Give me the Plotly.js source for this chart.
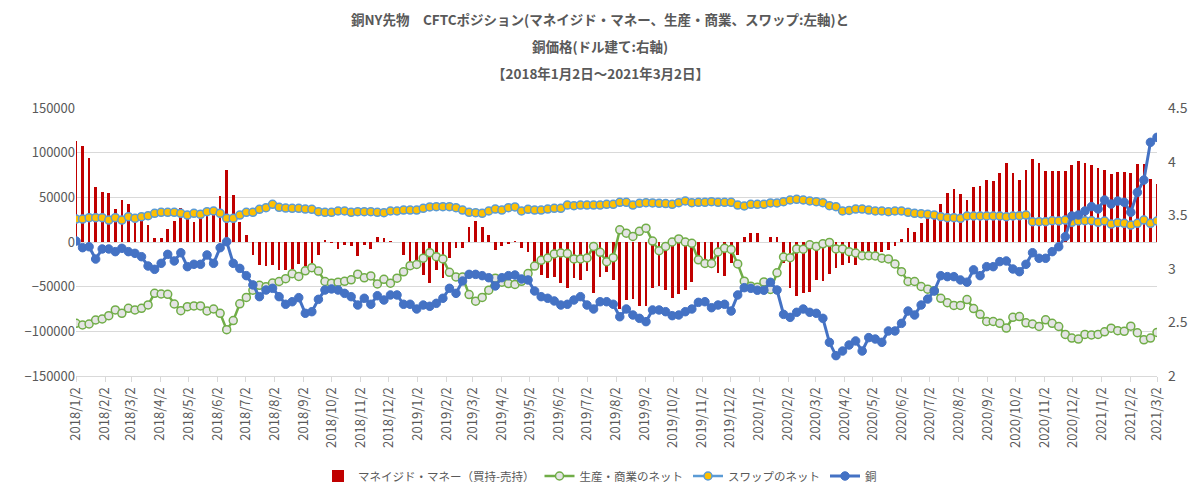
<!DOCTYPE html>
<html><head><meta charset="utf-8">
<script src="https://cdn.plot.ly/plotly-3.0.1.min.js"></script>
<style>html,body{margin:0;padding:0;background:#fff}#chart{width:1200px;height:497px}</style>
</head><body><div id="chart"></div>
<script>
// Weekly (Tuesday) observations, 2018/1/2 .. 2021/3/2 (166 weeks)
const startDate = '2018-01-02';
const weekCount = 166;

// マネイジド・マネー（買持-売持）
const managedMoney = [
113400,107300,94000,61200,55800,54300,36400,47000,42000,27000,
25000,19000,4000,4000,15000,23000,38500,27000,22000,28000,
33000,35000,51300,80800,52800,22200,8000,-14300,-25500,-27400,
-25200,-31100,-30800,-30200,-24600,-26500,-23700,-14300,2400,-1300,
-8000,-3200,-5000,-15300,-3400,-8200,6000,4100,1100,-400,
-14500,-23900,-23900,-36900,-46300,-31300,-40700,-17500,-6300,-7100,
17200,23500,17200,7800,-9000,-4100,-2200,1500,-7100,-10800,
-31300,-36900,-40700,-38800,-46300,-51900,-40700,-42500,-32500,-57500,
-38800,-33200,-42300,-75000,-64800,-63800,-71300,-71800,-51700,-49800,
-53500,-62900,-58500,-53500,-45100,-17700,-22700,-26400,-35200,-38600,
-23700,-14900,6100,9800,9800,500,6100,6100,-23900,-52000,
-60400,-57000,-56000,-43000,-44000,-36000,-29300,-26000,-24000,-25500,
-17000,-14300,-14300,-11500,-9100,-5000,3000,16000,11500,21000,
26700,35000,42000,54700,59500,53200,47000,61200,63000,69800,
68600,76800,88000,76800,69800,80600,92500,88800,79500,79800,
79500,79800,86200,90600,88000,86200,82400,80600,76100,78000,
78000,77600,86900,86900,70500,65300];

// 生産・商業のネット
const producerNet = [
-91000,-92900,-91800,-87300,-86200,-82500,-76100,-79800,-74200,-76100,
-74200,-70500,-57500,-58200,-58600,-69400,-76900,-72400,-71600,-71600,
-77200,-75000,-79800,-98200,-88000,-69200,-62000,-54000,-48500,-50000,
-46000,-44200,-41000,-35500,-38600,-32300,-28800,-32600,-44200,-46100,
-45000,-44000,-42300,-36000,-40100,-38000,-47000,-41800,-46100,-40500,
-33400,-26500,-25200,-18100,-11900,-16400,-19000,-34000,-39100,-39200,
-58800,-66200,-62100,-53900,-40500,-45000,-46500,-47500,-44000,-35400,
-27000,-20500,-17900,-13400,-12300,-13000,-19000,-19000,-17900,-5000,
-11600,-22000,-17500,13600,9900,6200,12000,15500,1000,-9700,
-5000,0,3400,0,-1500,-20000,-24000,-24000,-11200,-7000,
-8400,-24600,-43800,-49500,-50700,-44700,-53100,-34500,-16800,-17500,
-7800,-8000,-3200,-5000,-2000,-500,-7800,-7800,-10800,-12300,
-15300,-15300,-15600,-18100,-19000,-24500,-33200,-44200,-44200,-49800,
-52800,-54500,-63000,-68000,-71000,-71000,-64500,-74500,-81000,-89000,
-89000,-91000,-96400,-84300,-83500,-90500,-91800,-94600,-87100,-91000,
-94600,-103500,-107600,-108700,-103500,-104000,-103500,-100600,-96500,-99300,
-100000,-94200,-101600,-109500,-107600,-101200];

// スワップのネット
const swapNet = [
25700,25700,27200,27200,27200,24600,27200,24600,28400,26500,
28400,29500,32100,33200,33200,33200,32100,30200,32100,31000,
34000,34700,32100,26500,26500,30200,33200,33200,36600,38400,
42200,38800,38000,37700,37700,36900,36600,34000,33200,33200,
34700,34700,33200,34000,34000,34000,33200,32800,34700,34700,
35800,35800,35800,37700,39300,39500,39500,39500,38400,35800,
33200,32800,32100,34700,36900,35800,38400,39200,34700,36600,
35800,35800,36900,37700,37700,41400,40700,41400,41400,41400,
41400,42200,42200,44400,44400,41400,43300,44000,43700,43300,
43000,42200,44000,45900,44000,44400,44400,45100,44400,44400,
44400,41400,40300,42200,42200,42200,43700,43700,45100,47000,
47800,47000,45900,45100,44000,40700,39500,34700,35400,36900,
36900,35800,34700,34700,34000,34700,34700,33200,32100,31700,
31000,30200,28400,27200,27200,26500,29100,29100,29100,29100,
29100,29100,28400,29100,29500,30200,22800,22800,22800,23900,
23500,24600,22000,23500,23900,23900,22000,23500,20100,21600,
20900,19000,20900,24600,20900,23500];

// 銅 (ドル建て, 右軸)
const copper = [
3.259,3.197,3.206,3.091,3.185,3.185,3.160,3.191,3.160,3.144,
3.113,3.026,2.995,3.051,3.135,3.073,3.150,3.020,3.042,3.042,
3.129,3.051,3.197,3.253,3.051,3.004,2.936,2.850,2.740,2.802,
2.818,2.740,2.669,2.693,2.731,2.585,2.600,2.715,2.802,2.812,
2.802,2.771,2.740,2.662,2.725,2.669,2.749,2.709,2.756,2.756,
2.669,2.669,2.625,2.662,2.650,2.678,2.725,2.818,2.771,2.886,
2.948,2.948,2.936,2.917,2.840,2.917,2.936,2.942,2.905,2.896,
2.793,2.740,2.725,2.700,2.662,2.669,2.709,2.740,2.662,2.625,
2.693,2.693,2.669,2.553,2.625,2.569,2.538,2.507,2.616,2.616,
2.600,2.563,2.569,2.600,2.625,2.687,2.693,2.637,2.662,2.669,
2.606,2.756,2.824,2.818,2.800,2.800,2.874,2.802,2.575,2.547,
2.594,2.625,2.594,2.585,2.538,2.314,2.190,2.233,2.289,2.327,
2.233,2.358,2.345,2.314,2.420,2.420,2.491,2.606,2.569,2.662,
2.718,2.793,2.936,2.927,2.927,2.896,2.875,2.990,2.936,3.020,
3.020,3.067,3.073,2.998,2.973,3.042,3.150,3.098,3.098,3.160,
3.206,3.300,3.493,3.502,3.539,3.580,3.558,3.642,3.604,3.632,
3.620,3.527,3.713,3.828,4.180,4.226];

const seriesNames = ['マネイジド・マネー（買持-売持）','生産・商業のネット','スワップのネット','銅'];
const titleLines = [
  '銅NY先物　CFTCポジション(マネイジド・マネー、生産・商業、スワップ:左軸)と',
  '銅価格(ドル建て:右軸)',
  '【2018年1月2日～2021年3月2日】'
];

// weekly date axis
const DAY = 86400000;
const t0 = Date.parse(startDate + 'T00:00:00Z');
const dates = [];
for (let i = 0; i < weekCount; i++) dates.push(new Date(t0 + i * 7 * DAY).toISOString().slice(0, 10));

// monthly tick labels on the 2nd
const tickVals = [], tickText = [];
for (let y = 2018, m = 1; y < 2021 || (y === 2021 && m <= 3); ) {
  tickVals.push(y + '-' + String(m).padStart(2, '0') + '-02');
  tickText.push(y + '/' + m + '/2');
  m++; if (m > 12) { m = 1; y++; }
}

const FONT = '"Noto Sans CJK JP", "Noto Sans", sans-serif';
const GREY = '#595959';

const traces = [
  {type: 'bar', name: seriesNames[0], x: dates, y: managedMoney,
   marker: {color: '#C00000', line: {width: 0}}, width: 2.9 * DAY},
  {type: 'scatter', mode: 'lines+markers', name: seriesNames[1], x: dates, y: producerNet,
   line: {color: '#70AD47', width: 2.5},
   marker: {symbol: 'circle', size: 8, color: '#E4E4E4', line: {color: '#70AD47', width: 1.5}}},
  {type: 'scatter', mode: 'lines+markers', name: seriesNames[2], x: dates, y: swapNet,
   line: {color: '#5B9BD5', width: 2.5},
   marker: {symbol: 'circle', size: 8, color: '#FFC000', line: {color: '#5B9BD5', width: 1.5}}},
  {type: 'scatter', mode: 'lines+markers', name: seriesNames[3], x: dates, y: copper, yaxis: 'y2',
   line: {color: '#4472C4', width: 3},
   marker: {symbol: 'circle', size: 8.5, color: '#4472C4', line: {color: '#4472C4', width: 1}}}
];

const annotations = titleLines.map((t, k) => ({
  text: '<b>' + t + '</b>', xref: 'paper', yref: 'paper',
  x: (600 - 76) / 1081, y: (376 - (19 + 27 * k)) / 268, xanchor: 'center', yanchor: 'middle',
  showarrow: false, font: {family: FONT, size: 13.5, color: GREY}
}));

const layout = {
  width: 1200, height: 497,
  margin: {l: 76, r: 43, t: 108, b: 121, pad: 0, autoexpand: false},
  paper_bgcolor: '#fff', plot_bgcolor: '#fff',
  font: {family: FONT, color: GREY, size: 12},
  showlegend: true,
  legend: {orientation: 'h', x: 0.5, xref: 'container', xanchor: 'center',
    y: 1 - 476 / 497, yref: 'container', yanchor: 'middle',
    font: {family: FONT, size: 11.5, color: GREY}, itemwidth: 30, traceorder: 'normal'},
  bargap: 0,
  xaxis: {type: 'date', range: [dates[0], dates[dates.length - 1]], tickmode: 'array',
    tickvals: tickVals, ticktext: tickText, tickangle: -90, automargin: false,
    tickfont: {family: FONT, size: 13, color: GREY},
    showgrid: false, zeroline: false, showline: true, linecolor: '#D9D9D9', linewidth: 1,
    ticks: 'outside', ticklen: 5, tickcolor: '#D9D9D9', fixedrange: true},
  yaxis: {range: [-150000, 150000], dtick: 50000, tick0: 0, tickformat: 'd', automargin: false,
    showgrid: true, gridcolor: '#D9D9D9', gridwidth: 1, zeroline: false,
    tickfont: {family: FONT, size: 13, color: GREY}, ticks: '', showline: false, fixedrange: true},
  yaxis2: {overlaying: 'y', side: 'right', range: [2, 4.5], dtick: 0.5, tick0: 2, automargin: false,
    showgrid: false, zeroline: false, showline: false, ticks: '', ticklabelstandoff: 10,
    tickfont: {family: FONT, size: 14, color: GREY}, fixedrange: true},
  annotations: annotations
};

Plotly.newPlot('chart', traces, layout, {displayModeBar: false, staticPlot: true});
</script></body></html>
